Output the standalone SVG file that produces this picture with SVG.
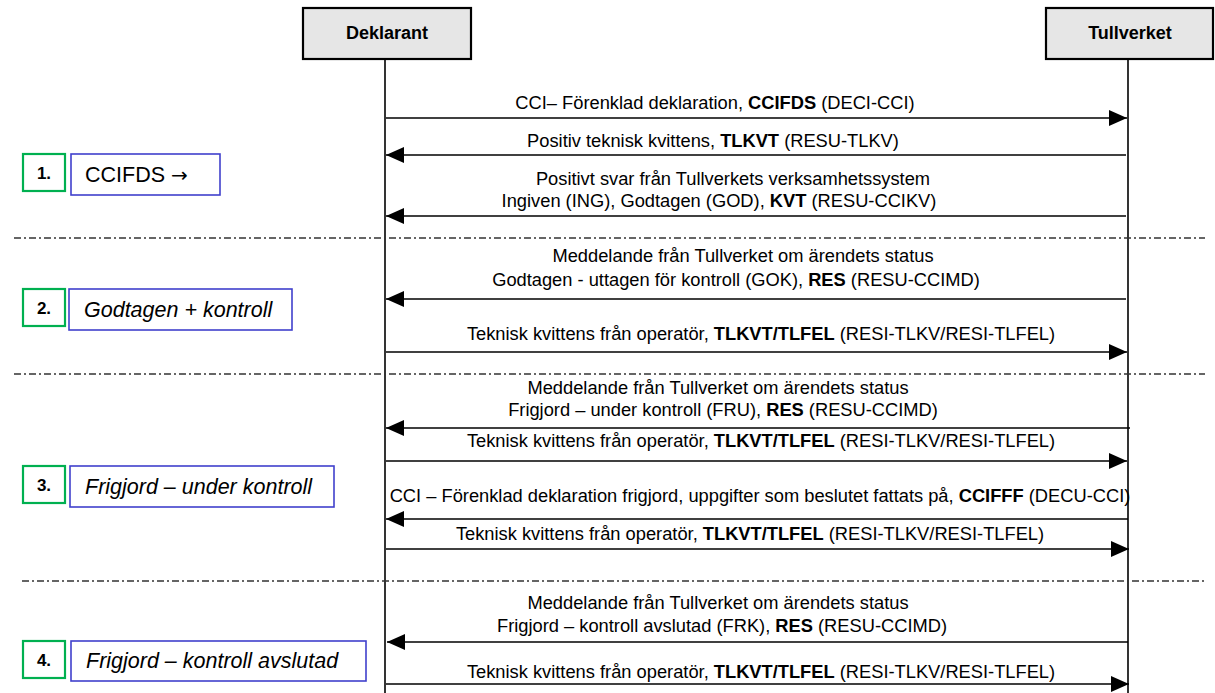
<svg xmlns="http://www.w3.org/2000/svg" width="1215" height="693" viewBox="0 0 1215 693">
<style>
text{font-family:"Liberation Sans",Arial,sans-serif;fill:#000}
.hdr{fill:#e6e6e6;stroke:#000;stroke-width:2.2}
.hdrt{font-size:18px;font-weight:bold;text-anchor:middle}
.life{stroke:#000;stroke-width:1.6}
.msg{stroke:#000;stroke-width:1.6;fill:none;marker-end:url(#ah)}
.lbl{font-size:18.3px;text-anchor:middle}
.sep{stroke:#333;stroke-width:1.4;stroke-dasharray:7 3 2 3}
.num{fill:#fff;stroke:#00b050;stroke-width:2.2}
.numt{font-size:17px;font-weight:bold;text-anchor:middle}
.st{fill:#fff;stroke:#4040cc;stroke-width:1.6}
.stt{font-size:21.5px}
</style>
<defs>
<marker id="ah" markerUnits="userSpaceOnUse" markerWidth="18" markerHeight="16" refX="18" refY="8" orient="auto">
<path d="M0,0 L18,8 L0,16 z" fill="#000"/>
</marker>
</defs>
<rect width="1215" height="693" fill="#fff"/>

<g id="deklarant">
<line class="life" x1="385" y1="59" x2="385" y2="693"/>
<rect class="hdr" x="303" y="8" width="168" height="51"/>
<text class="hdrt" x="387" y="39">Deklarant</text>
</g>
<g id="tullverket">
<line class="life" x1="1128" y1="59" x2="1128" y2="693"/>
<rect class="hdr" x="1046" y="8" width="167" height="51"/>
<text class="hdrt" x="1130" y="39">Tullverket</text>
</g>

<g id="separators">
<line class="sep" x1="14" y1="238" x2="1205" y2="238"/>
<line class="sep" x1="14" y1="374" x2="1205" y2="374"/>
<line class="sep" x1="22" y1="581" x2="1205" y2="581"/>
</g>

<g id="step1">
<rect class="num" x="23" y="154" width="42" height="37"/>
<text class="numt" x="44" y="179">1.</text>
<rect class="st" x="71" y="154" width="149" height="41"/>
<text class="stt" x="85" y="182">CCIFDS <tspan font-family="DejaVu Sans" font-size="20px">→</tspan></text>
</g>
<g id="step2">
<rect class="num" x="23" y="289" width="42" height="37"/>
<text class="numt" x="44" y="314">2.</text>
<rect class="st" x="69" y="289" width="223" height="41"/>
<text class="stt" x="84" y="317" font-style="italic">Godtagen + kontroll</text>
</g>
<g id="step3">
<rect class="num" x="23" y="466" width="42" height="37"/>
<text class="numt" x="44" y="491">3.</text>
<rect class="st" x="70" y="466" width="264" height="41"/>
<text class="stt" x="85" y="494" font-style="italic">Frigjord – under kontroll</text>
</g>
<g id="step4">
<rect class="num" x="23" y="641" width="42" height="37"/>
<text class="numt" x="44" y="666">4.</text>
<rect class="st" x="71" y="641" width="295" height="40"/>
<text class="stt" x="86" y="668" font-style="italic">Frigjord – kontroll avslutad</text>
</g>

<g id="connectors">
<line class="msg" x1="386" y1="118" x2="1127" y2="118"/>
<text class="lbl" x="715" y="109">CCI– Förenklad deklaration, <tspan font-weight="bold">CCIFDS</tspan> (DECI-CCI)</text>

<line class="msg" x1="1126" y1="155" x2="386" y2="155"/>
<text class="lbl" x="713" y="147">Positiv teknisk kvittens, <tspan font-weight="bold">TLKVT</tspan> (RESU-TLKV)</text>

<line class="msg" x1="1126" y1="216" x2="386" y2="216"/>
<text class="lbl" x="733" y="185">Positivt svar från Tullverkets verksamhetssystem</text>
<text class="lbl" x="719" y="207">Ingiven (ING), Godtagen (GOD), <tspan font-weight="bold">KVT</tspan> (RESU-CCIKV)</text>

<line class="msg" x1="1126" y1="299" x2="386" y2="299"/>
<text class="lbl" x="743" y="262">Meddelande från Tullverket om ärendets status</text>
<text class="lbl" x="736" y="286">Godtagen - uttagen för kontroll (GOK), <tspan font-weight="bold">RES</tspan> (RESU-CCIMD)</text>

<line class="msg" x1="386" y1="352" x2="1127" y2="352"/>
<text class="lbl" x="761" y="340">Teknisk kvittens från operatör, <tspan font-weight="bold">TLKVT/TLFEL</tspan> (RESI-TLKV/RESI-TLFEL)</text>

<line class="msg" x1="1130" y1="428" x2="386" y2="428"/>
<text class="lbl" x="718" y="394">Meddelande från Tullverket om ärendets status</text>
<text class="lbl" x="723" y="416">Frigjord – under kontroll (FRU), <tspan font-weight="bold">RES</tspan> (RESU-CCIMD)</text>

<line class="msg" x1="386" y1="461" x2="1127" y2="461"/>
<text class="lbl" x="761" y="447">Teknisk kvittens från operatör, <tspan font-weight="bold">TLKVT/TLFEL</tspan> (RESI-TLKV/RESI-TLFEL)</text>

<line class="msg" x1="1128" y1="519" x2="386" y2="519"/>
<text class="lbl" x="760" y="502">CCI – Förenklad deklaration frigjord, uppgifter som beslutet fattats på, <tspan font-weight="bold">CCIFFF</tspan> (DECU-CCI)</text>

<line class="msg" x1="386" y1="549" x2="1129" y2="549"/>
<text class="lbl" x="750" y="540">Teknisk kvittens från operatör, <tspan font-weight="bold">TLKVT/TLFEL</tspan> (RESI-TLKV/RESI-TLFEL)</text>

<line class="msg" x1="1128" y1="642" x2="387" y2="642"/>
<text class="lbl" x="718" y="609">Meddelande från Tullverket om ärendets status</text>
<text class="lbl" x="722" y="632">Frigjord – kontroll avslutad (FRK), <tspan font-weight="bold">RES</tspan> (RESU-CCIMD)</text>

<line class="msg" x1="386" y1="684" x2="1129" y2="684"/>
<text class="lbl" x="761" y="678">Teknisk kvittens från operatör, <tspan font-weight="bold">TLKVT/TLFEL</tspan> (RESI-TLKV/RESI-TLFEL)</text>
</g>
</svg>
